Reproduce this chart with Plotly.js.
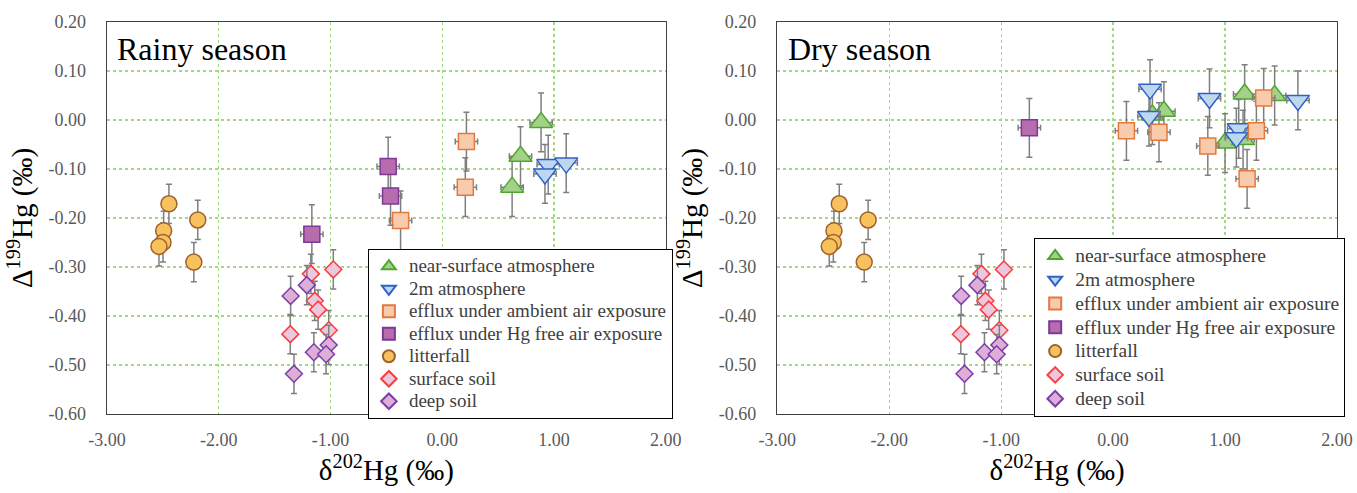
<!DOCTYPE html>
<html>
<head>
<meta charset="utf-8">
<script src="https://cdn.plot.ly/plotly-3.0.1.min.js"></script>
<style>
html,body{margin:0;padding:0;background:#fff;}
#chart{width:1357px;height:493px;}
</style>
</head>
<body>
<div id="chart"></div>
<script>
// ---------- data ----------
var seriesNames = ['near-surface atmosphere', '2m atmosphere', 'efflux under ambient air exposure',
  'efflux under Hg free air exposure', 'litterfall', 'surface soil', 'deep soil'];
var panelTitles = ['Rainy season', 'Dry season'];

// Rainy season
var rainyNearX = [0.884, 0.700, 0.625];
var rainyNearY = [-0.005, -0.074, -0.137];
var rainy2mX = [0.948, 0.919, 1.109];
var rainy2mY = [-0.091, -0.110, -0.088];
var rainyAmbX = [0.216, 0.206, -0.373];
var rainyAmbY = [-0.044, -0.137, -0.205];
var rainyFreeX = [-0.484, -0.463, -1.167];
var rainyFreeY = [-0.095, -0.155, -0.233];

// Dry season
var dryNearX = [0.351, 0.454, 1.175, 1.443, 1.000, 1.161];
var dryNearY = [0.010, 0.018, 0.053, 0.050, -0.047, -0.040];
var dry2mX = [0.330, 0.321, 0.861, 1.122, 1.101, 1.651];
var dry2mY = [0.063, 0.007, 0.044, -0.018, -0.036, 0.040];
var dryAmbX = [0.119, 0.410, 0.846, 1.345, 1.280, 1.197];
var dryAmbY = [-0.022, -0.025, -0.053, 0.045, -0.022, -0.120];
var dryFreeX = [-0.748];
var dryFreeY = [-0.016];

// shown identically in both panels
var litterX = [-2.446, -2.493, -2.499, -2.535, -2.188, -2.223];
var litterY = [-0.171, -0.226, -0.250, -0.258, -0.204, -0.290];
var surfSoilX = [-1.176, -0.975, -1.141, -1.111, -1.016, -1.360];
var surfSoilY = [-0.314, -0.305, -0.369, -0.387, -0.429, -0.437];
var deepSoilX = [-1.357, -1.212, -1.149, -1.016, -1.040, -1.327];
var deepSoilY = [-0.359, -0.337, -0.474, -0.459, -0.478, -0.518];

// error bar half-widths
var gasErrX = 0.1, gasErrY = 0.06;
var solidErrY = 0.04;

// ticks
var xTickVals = [-3, -2, -1, 0, 1, 2];
var xTickText = ['-3.00', '-2.00', '-1.00', '0.00', '1.00', '2.00'];
var yTickVals = [-0.6, -0.5, -0.4, -0.3, -0.2, -0.1, 0, 0.1, 0.2];
var yTickText = ['-0.60', '-0.50', '-0.40', '-0.30', '-0.20', '-0.10', '0.00', '0.10', '0.20'];

// ---------- styles ----------
var styles = [
  {symbol: 'triangle-up', size: 20, fill: '#a4d18a', line: '#4ea72e'},
  {symbol: 'triangle-down', size: 20, fill: '#bdd7ee', line: '#2e62c8'},
  {symbol: 'square', size: 16, fill: '#f8cbad', line: '#e2793d'},
  {symbol: 'square', size: 16, fill: '#b86bad', line: '#7a3a96'},
  {symbol: 'circle', size: 16, fill: '#f7c25e', line: '#a0602a'},
  {symbol: 'diamond', size: 13, fill: '#ecc8e0', line: '#ff3b3b'},
  {symbol: 'diamond', size: 13, fill: '#deaed6', line: '#7a3fa8'}
];
var FONT = 'Liberation Serif';
var errColor = '#7f7f7f';

function trace(i, xs, ys, ax, ay, leg, textPx, ex, ey) {
  var s = styles[i];
  var t = {
    type: 'scatter', mode: 'markers',
    name: '<span style="font-size:' + textPx + 'px">' + seriesNames[i] + '</span>',
    x: xs, y: ys, xaxis: ax, yaxis: ay, legend: leg, showlegend: true,
    marker: {symbol: s.symbol, size: s.size, color: s.fill, line: {color: s.line, width: 1.5}},
    error_y: {type: 'constant', value: ey, color: errColor, thickness: 1.5, width: 3}
  };
  if (ex) t.error_x = {type: 'constant', value: ex, color: errColor, thickness: 1.5, width: 3};
  return t;
}

var panels = [
  {ax: 'x', ay: 'y', leg: 'legend', textPx: 19, sets: [[rainyNearX, rainyNearY], [rainy2mX, rainy2mY], [rainyAmbX, rainyAmbY], [rainyFreeX, rainyFreeY]]},
  {ax: 'x2', ay: 'y2', leg: 'legend2', textPx: 19.5, sets: [[dryNearX, dryNearY], [dry2mX, dry2mY], [dryAmbX, dryAmbY], [dryFreeX, dryFreeY]]}
];
var data = [];
panels.forEach(function (p) {
  p.sets.forEach(function (s, i) { data.push(trace(i, s[0], s[1], p.ax, p.ay, p.leg, p.textPx, gasErrX, gasErrY)); });
  data.push(trace(4, litterX, litterY, p.ax, p.ay, p.leg, p.textPx, 0, solidErrY));
  data.push(trace(5, surfSoilX, surfSoilY, p.ax, p.ay, p.leg, p.textPx, 0, solidErrY));
  data.push(trace(6, deepSoilX, deepSoilY, p.ax, p.ay, p.leg, p.textPx, 0, solidErrY));
});

function xAxis(dom, anchor) {
  return {
    domain: dom, anchor: anchor, range: [-3, 2], tickvals: xTickVals, ticktext: xTickText,
    ticks: '', ticklabelstandoff: 9,
    tickfont: {family: FONT, size: 18, color: '#595959'},
    showgrid: true, gridcolor: '#a6d48a', griddash: '3px,3px', gridwidth: 1.2, zeroline: false,
    showline: true, mirror: true, linecolor: '#404040', linewidth: 1.3,
    title: {text: 'δ<sup>202</sup>Hg (‰)', font: {family: FONT, size: 29, color: '#000'}, standoff: 3}
  };
}
function yAxis(anchor) {
  return {
    domain: [0, 1], anchor: anchor, range: [-0.6, 0.2], tickvals: yTickVals, ticktext: yTickText,
    ticks: '', ticklabelstandoff: 16,
    tickfont: {family: FONT, size: 18, color: '#595959'},
    showgrid: true, gridcolor: '#a6d48a', griddash: '3px,3px', gridwidth: 1.2, zeroline: false,
    showline: true, mirror: true, linecolor: '#404040', linewidth: 1.3,
    title: {text: 'Δ<sup>199</sup>Hg (‰)', font: {family: FONT, size: 29, color: '#000'}, standoff: 7}
  };
}
function legendBox(x, y, fs) {
  return {
    x: x, y: y, xanchor: 'left', yanchor: 'top', bgcolor: '#fff', bordercolor: '#000', borderwidth: 1,
    font: {family: FONT, size: fs, color: '#404040'}, itemsizing: 'constant', tracegroupgap: 0
  };
}

var layout = {
  width: 1357, height: 493,
  margin: {l: 107, r: 15, t: 22, b: 79},
  paper_bgcolor: '#fff', plot_bgcolor: '#fff',
  font: {family: FONT},
  showlegend: true,
  xaxis: xAxis([0, 0.4543], 'y'),
  yaxis: yAxis('x'),
  xaxis2: xAxis([0.5449, 1.0], 'y2'),
  yaxis2: yAxis('x2'),
  legend: legendBox(0.2121, 0.4209, 15),
  legend2: legendBox(0.7538, 0.449, 16),
  annotations: [
    {text: panelTitles[0], xref: 'x domain', yref: 'y domain', x: 0.015, y: 0.93, xanchor: 'left', yanchor: 'middle',
     showarrow: false, font: {family: FONT, size: 32, color: '#000'}},
    {text: panelTitles[1], xref: 'x2 domain', yref: 'y2 domain', x: 0.015, y: 0.93, xanchor: 'left', yanchor: 'middle',
     showarrow: false, font: {family: FONT, size: 32, color: '#000'}}
  ]
};

Plotly.newPlot('chart', data, layout, {staticPlot: true, displayModeBar: false});
</script>
</body>
</html>
